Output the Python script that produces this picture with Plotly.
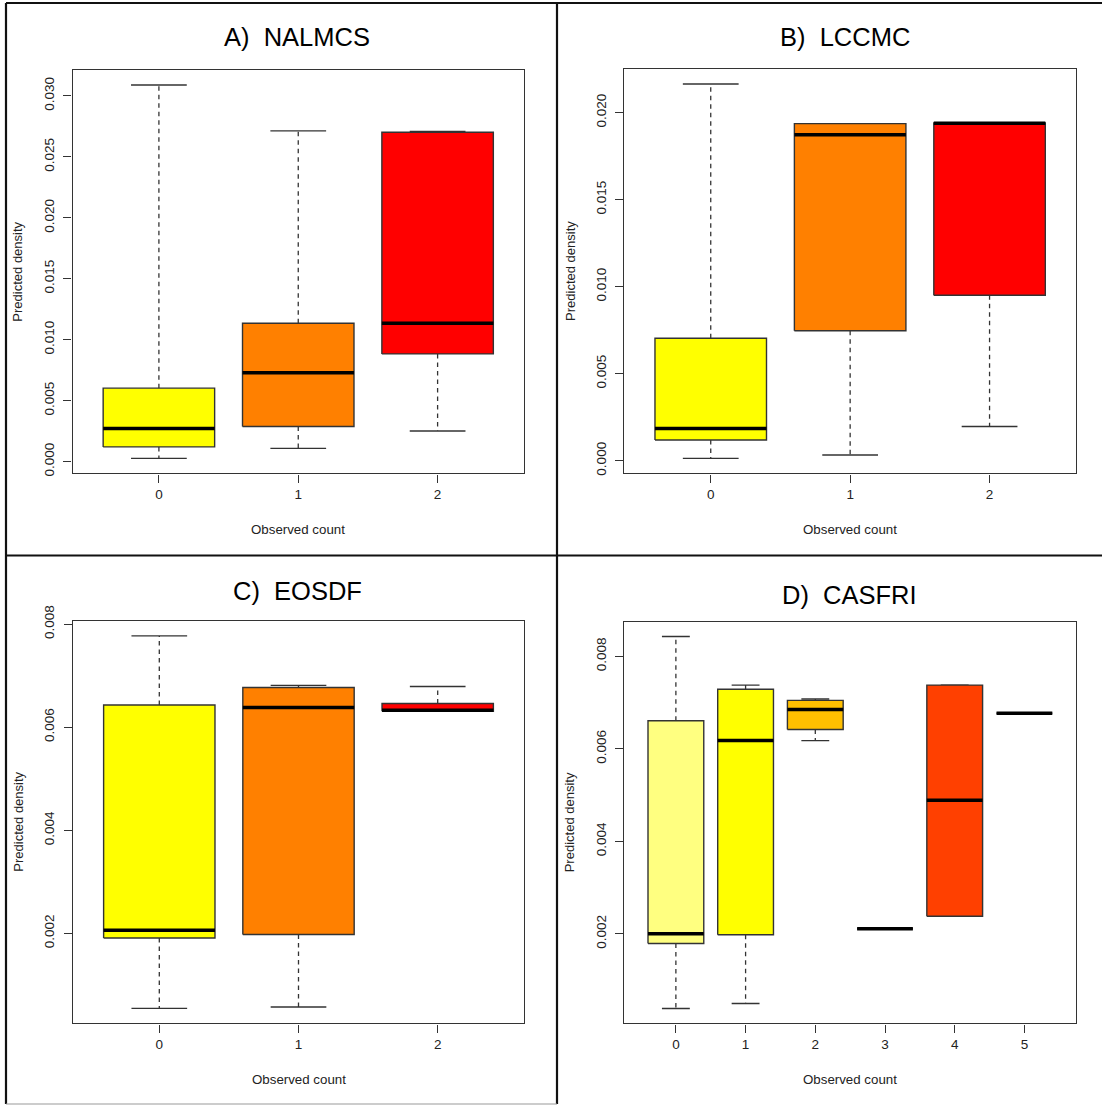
import plotly.graph_objects as go

W, H = 1102, 1105

# ---------------- data ----------------
# Panel A) NALMCS
a_labels = ["0", "1", "2"]
a_lower = [0.00026, 0.00108, 0.00251]
a_q1 = [0.00120, 0.00287, 0.00883]
a_med = [0.00272, 0.00728, 0.01135]
a_q3 = [0.00602, 0.01135, 0.02702]
a_upper = [0.03090, 0.02713, 0.02708]
a_colors = ["#FFFF00", "#FF8000", "#FF0000"]
a_yticks = [0.000, 0.005, 0.010, 0.015, 0.020, 0.025, 0.030]

# Panel B) LCCMC
b_labels = ["0", "1", "2"]
b_lower = [0.00014, 0.00033, 0.00197]
b_q1 = [0.00119, 0.00747, 0.00951]
b_med = [0.00185, 0.01873, 0.01938]
b_q3 = [0.00704, 0.01936, 0.01940]
b_upper = [0.02164, 0.01936, 0.01940]
b_colors = ["#FFFF00", "#FF8000", "#FF0000"]
b_yticks = [0.000, 0.005, 0.010, 0.015, 0.020]

# Panel C) EOSDF
c_labels = ["0", "1", "2"]
c_lower = [0.000546, 0.000573, 0.00631]
c_q1 = [0.00191, 0.00198, 0.00631]
c_med = [0.00206, 0.00638, 0.00633]
c_q3 = [0.00643, 0.00677, 0.00646]
c_upper = [0.00777, 0.00681, 0.00679]
c_colors = ["#FFFF00", "#FF8000", "#FF0000"]
c_yticks = [0.002, 0.004, 0.006, 0.008]

# Panel D) CASFRI
d_labels = ["0", "1", "2", "3", "4", "5"]
d_lower = [0.000386, 0.000492, 0.00618, 0.00211, 0.00238, 0.00677]
d_q1 = [0.00179, 0.00198, 0.00642, 0.00211, 0.00238, 0.00677]
d_med = [0.00200, 0.00618, 0.00685, 0.00211, 0.00489, 0.00677]
d_q3 = [0.00661, 0.00729, 0.00705, 0.00211, 0.00738, 0.00677]
d_upper = [0.00843, 0.00738, 0.00708, 0.00211, 0.00738, 0.00677]
d_colors = ["#FFFF80", "#FFFF00", "#FFBF00", "#FF8000", "#FF4000", "#FF0000"]
d_yticks = [0.002, 0.004, 0.006, 0.008]

titles = ["A)\u00a0 NALMCS", "B)\u00a0 LCCMC", "C)\u00a0 EOSDF", "D)\u00a0 CASFRI"]
x_title = "Observed count"
y_title = "Predicted density"

# ---------------- layout geometry (pixels) ----------------
panels_px = [  # left, right, top, bottom of plot region
    (72.5, 524, 70, 473.3),
    (624.3, 1076, 69, 473.3),
    (73, 524, 621, 1023.3),
    (624.3, 1076, 621.7, 1023.3),
]
title_pos_px = [(297, 37), (845, 37), (297, 591), (849, 595)]

FONT = "Liberation Sans, Arial, sans-serif"
TXT = "#222222"
LINE = "#333333"
BOXW = 0.8

panels = [
    (a_labels, a_lower, a_q1, a_med, a_q3, a_upper, a_colors, a_yticks),
    (b_labels, b_lower, b_q1, b_med, b_q3, b_upper, b_colors, b_yticks),
    (c_labels, c_lower, c_q1, c_med, c_q3, c_upper, c_colors, c_yticks),
    (d_labels, d_lower, d_q1, d_med, d_q3, d_upper, d_colors, d_yticks),
]

fig = go.Figure()
annotations = []
layout_axes = {}

for k, (labels, lower, q1, med, q3, upper, colors, yticks) in enumerate(panels):
    idx = "" if k == 0 else str(k + 1)
    xa, ya = "x" + idx, "y" + idx
    n = len(labels)
    pos = list(range(1, n + 1))
    for i in range(n):
        p = pos[i]
        # dashed whiskers
        fig.add_trace(go.Scatter(
            x=[p, p, None, p, p], y=[q3[i], upper[i], None, q1[i], lower[i]],
            mode="lines", line=dict(color=LINE, width=1.3, dash="4.5px,4px"),
            xaxis=xa, yaxis=ya, showlegend=False, hoverinfo="skip"))
        # staples
        fig.add_trace(go.Scatter(
            x=[p - BOXW / 4, p + BOXW / 4, None, p - BOXW / 4, p + BOXW / 4],
            y=[upper[i], upper[i], None, lower[i], lower[i]],
            mode="lines", line=dict(color=LINE, width=1.4),
            xaxis=xa, yaxis=ya, showlegend=False, hoverinfo="skip"))
        # box
        fig.add_trace(go.Scatter(
            x=[p - BOXW / 2, p + BOXW / 2, p + BOXW / 2, p - BOXW / 2, p - BOXW / 2],
            y=[q1[i], q1[i], q3[i], q3[i], q1[i]],
            mode="lines", fill="toself", fillcolor=colors[i],
            line=dict(color=LINE, width=1.4),
            xaxis=xa, yaxis=ya, showlegend=False, hoverinfo="skip"))
        # median
        fig.add_trace(go.Scatter(
            x=[p - BOXW / 2, p + BOXW / 2], y=[med[i], med[i]],
            mode="lines", line=dict(color="#000000", width=3.5),
            xaxis=xa, yaxis=ya, showlegend=False, hoverinfo="skip"))

    ymin, ymax = min(lower), max(upper)
    pad = 0.04 * (ymax - ymin)
    xpad = 0.04 * n
    L, R, T, B = panels_px[k]
    common = dict(showline=True, mirror=True, linecolor=LINE, linewidth=1.4,
                  ticks="outside", ticklen=8, tickwidth=1.3, tickcolor=LINE,
                  showgrid=False, zeroline=False, automargin=False,
                  tickfont=dict(family=FONT, size=13.5, color=TXT))
    layout_axes["xaxis" + idx] = dict(
        common, domain=[L / W, R / W], anchor=ya,
        range=[0.5 - xpad, n + 0.5 + xpad],
        tickmode="array", tickvals=pos, ticktext=labels)
    layout_axes["yaxis" + idx] = dict(
        common, domain=[1 - B / H, 1 - T / H], anchor=xa,
        range=[ymin - pad, ymax + pad],
        tickmode="array", tickvals=yticks, ticklabelstandoff=4,
        ticktext=["%.3f" % v for v in yticks], tickangle=-90)

    cx = (L + R) / 2
    tx, ty = title_pos_px[k]
    annotations.append(dict(text=titles[k], x=tx / W, y=1 - ty / H,
                            xref="paper", yref="paper", showarrow=False,
                            xanchor="center", yanchor="middle",
                            font=dict(family=FONT, size=25.5, color="#000000")))
    annotations.append(dict(text=x_title, x=cx / W, y=1 - (B + 56) / H,
                            xref="paper", yref="paper", showarrow=False,
                            xanchor="center", yanchor="middle",
                            font=dict(family=FONT, size=13.3, color=TXT)))
    annotations.append(dict(text=y_title, x=(L - 54.5) / W, y=1 - ((T + B) / 2) / H,
                            xref="paper", yref="paper", showarrow=False,
                            textangle=-90, xanchor="center", yanchor="middle",
                            font=dict(family=FONT, size=13, color=TXT)))

# panel borders
border = dict(type="line", xref="paper", yref="paper",
              line=dict(color="#111111", width=2.2))
shapes = [
    dict(border, x0=6 / W, x1=1, y0=1 - 3 / H, y1=1 - 3 / H),
    dict(border, x0=6 / W, x1=6 / W, y0=1 - 3 / H, y1=1 - 1104 / H),
    dict(border, x0=557 / W, x1=557 / W, y0=1 - 3 / H, y1=1 - 1104 / H),
    dict(border, x0=6 / W, x1=1, y0=1 - 555.5 / H, y1=1 - 555.5 / H),
    dict(type="line", xref="paper", yref="paper", x0=6 / W, x1=557 / W,
         y0=1 - 1104 / H, y1=1 - 1104 / H, line=dict(color="#999999", width=1.2)),
]

fig.update_layout(
    width=W, height=H,
    margin=dict(l=0, r=0, t=0, b=0, pad=0, autoexpand=False),
    paper_bgcolor="white", plot_bgcolor="white",
    showlegend=False, annotations=annotations, shapes=shapes,
    **layout_axes)

fig.write_html(
    "out.html",
    config={"displayModeBar": False},
    post_script="document.body.style.margin='0';document.body.style.padding='0';"
                "document.documentElement.style.overflow='hidden';")
